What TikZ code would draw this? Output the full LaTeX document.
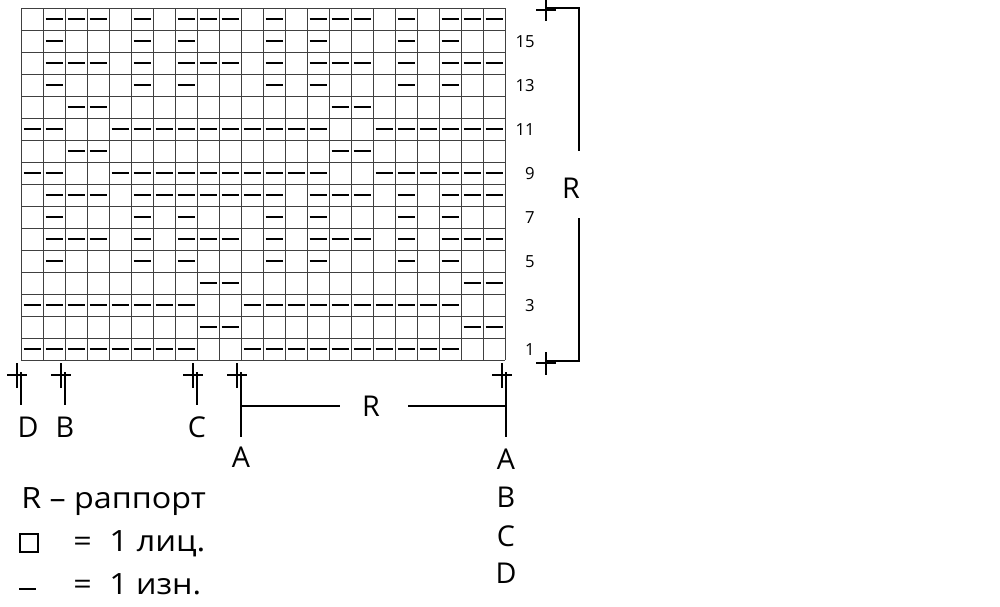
\documentclass[tikz,border=0pt]{standalone}
\usepackage{fontspec}
\setmainfont{Open Sans}
\begin{document}
\begin{tikzpicture}[x=0.75pt,y=-0.75pt,
  gridline/.style={draw=black!75,line width=0.75pt},
  purl/.style={draw=black,line width=1.5pt},
  crossmark/.style={draw=black,line width=1.8pt},
  conn/.style={draw=black,line width=1.2pt},
  biglbl/.style={font=\fontsize{21.5}{24}\selectfont,inner sep=0pt,anchor=base},
  rownum/.style={font=\fontsize{12.5}{14}\selectfont,inner sep=0pt,anchor=base east},
  legend/.style={font=\fontsize{22}{24}\selectfont,inner sep=0pt,anchor=base west}]
\useasboundingbox (0,0) rectangle (1000,607);
\fill[white] (0,0) rectangle (1000,607);
% grid
\foreach \i in {0,...,22} \draw[gridline] ({21+22*\i},8) -- ({21+22*\i},360);
\foreach \j in {0,...,16} \draw[gridline] (21,{8+22*\j}) -- (505,{8+22*\j});
% purl dashes: row r, column c -> centre (10+22c, 371-22r)
\newcommand{\pd}[2]{\draw[purl] ({10+22*#2-8.5},{371-22*#1}) -- ({10+22*#2+8.5},{371-22*#1});}
\foreach \c in {1,...,8,11,12,...,20} {\pd{1}{\c}}
\foreach \c in {9,10,21,22} {\pd{2}{\c}}
\foreach \c in {1,...,8,11,12,...,20} {\pd{3}{\c}}
\foreach \c in {9,10,21,22} {\pd{4}{\c}}
\foreach \c in {2,6,8,12,14,18,20} {\pd{5}{\c}}
\foreach \c in {2,3,4,6,8,9,10,12,14,15,16,18,20,21,22} {\pd{6}{\c}}
\foreach \c in {2,6,8,12,14,18,20} {\pd{7}{\c}}
\foreach \c in {2,3,4,6,7,8,9,10,11,12,14,15,16,18,20,21,22} {\pd{8}{\c}}
\foreach \c in {1,2,5,6,...,14,17,18,...,22} {\pd{9}{\c}}
\foreach \c in {3,4,15,16} {\pd{10}{\c}}
\foreach \c in {1,2,5,6,...,14,17,18,...,22} {\pd{11}{\c}}
\foreach \c in {3,4,15,16} {\pd{12}{\c}}
\foreach \c in {2,6,8,12,14,18,20} {\pd{13}{\c}}
\foreach \c in {2,3,4,6,8,9,10,12,14,15,16,18,20,21,22} {\pd{14}{\c}}
\foreach \c in {2,6,8,12,14,18,20} {\pd{15}{\c}}
\foreach \c in {2,3,4,6,8,9,10,12,14,15,16,18,20,21,22} {\pd{16}{\c}}
% row numbers
\foreach \r in {1,3,...,15} \node[rownum] (n\r) at (535,{377-22*\r}) {\r};
% bottom crosses and marker lines
\foreach \n/\x in {d/21,b/65,c/197,a/241,ar/506} {
  \draw[crossmark] ({\x-4},363) -- ({\x-4},388);
  \draw[crossmark] ({\x-14},375) -- ({\x+6},375);
  \coordinate (top\n) at (\x,372);
}
\coordinate (botd) at (21,405);
\coordinate (botb) at (65,405);
\coordinate (botc) at (197,405);
\coordinate (bota) at (241,437);
\coordinate (botar) at (506,437);
\draw[conn] (topd) -- (botd);
\draw[conn] (topb) -- (botb);
\draw[conn] (topc) -- (botc);
\draw[conn] (topa) -- (bota);
\draw[conn] (topar) -- (botar);
\node[biglbl] (lD) at (28,437) {D};
\node[biglbl] (lB) at (65,437) {B};
\node[biglbl] (lC) at (197,437) {C};
\node[biglbl] (lA1) at (241,467) {A};
\node[biglbl] (lA2) at (506,469) {A};
\node[biglbl] (lB2) at (506,507) {B};
\node[biglbl] (lC2) at (506,546) {C};
\node[biglbl] (lD2) at (506,583) {D};
% horizontal repeat bracket
\node[biglbl] (rh) at (371,416) {R};
\coordinate (rhl) at (241,406);
\coordinate (rhr) at (506,406);
\draw[conn] (rhl) -- (340,406);
\draw[conn] (408,406) -- (rhr);
% vertical repeat bracket
\draw[crossmark] (546,0) -- (546,21);
\draw[crossmark] (536,10) -- (556,10);
\draw[crossmark] (546,352) -- (546,375);
\draw[crossmark] (536,363) -- (556,363);
\coordinate (vt) at (547,8);
\coordinate (vb) at (547,361);
\node[biglbl] (rv) at (571,198) {R};
\draw[conn] (vt) -- (579,8) -- (579,151);
\draw[conn] (579,218) -- (579,361) -- (vb);
% legend
\node[legend] (leg1) at (21,508) {\scalebox{1.1}[1]{R – раппорт}};
\node[draw,line width=0.8pt,inner sep=0pt,minimum size=13.5pt] (sq) at (29,543) {};
\node[legend] (eq1) at (73,551) {\scalebox{1.1}[1]{=}};
\node[legend] (t1) at (109,551) {\scalebox{1.12}[1]{1 лиц.}};
\draw[purl,line width=1.9pt] (19,589) -- (36,589);
\node[legend] (eq2) at (73,594) {\scalebox{1.1}[1]{=}};
\node[legend] (t2) at (109,594) {\scalebox{1.1}[1]{1 изн.}};
\end{tikzpicture}
\end{document}
